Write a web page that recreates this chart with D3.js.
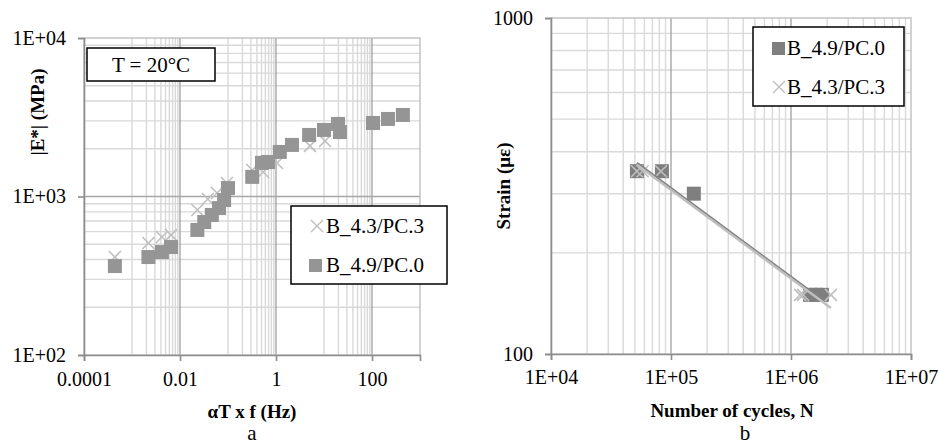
<!DOCTYPE html>
<html>
<head>
<meta charset="utf-8">
<script src="https://cdn.jsdelivr.net/npm/d3@7/dist/d3.min.js"></script>
<style>
  body { margin: 0; background: #fff; }
</style>
</head>
<body>
<script>
// ---- chart a : master curve at 20°C ----
const freqPC0 = [0.00044, 0.0022, 0.0042, 0.0065, 0.023, 0.032, 0.046, 0.065, 0.083, 0.1,
                 0.32, 0.51, 0.68, 1.2, 2.15, 4.9, 10, 19.6, 21.5, 105, 215, 440];
const modPC0  = [364, 415, 446, 480, 615, 690, 765, 845, 950, 1130,
                 1330, 1630, 1650, 1910, 2115, 2445, 2630, 2870, 2550, 2910, 3085, 3270];
const freqPC3 = [0.00044, 0.0022, 0.0042, 0.0065, 0.023, 0.038, 0.059, 0.095, 0.32, 0.54, 1.05, 5.1, 10.5];
const modPC3  = [415, 509, 555, 572, 822, 964, 1052, 1217, 1469, 1428, 1627, 2085, 2240];
const freqTicks = [0.0001, 0.01, 1, 100];
const freqLabels = ["0.0001", "0.01", "1", "100"];
const modTicks = [100, 1000, 10000];
const modLabels = ["1E+02", "1E+03", "1E+04"];

// ---- chart b : fatigue ----
const cyclesPC0 = [52000, 84000, 155000, 1440000, 1620000, 1810000];
const strainPC0 = [350, 350, 300, 150, 150, 150];
const cyclesPC3 = [52000, 58000, 82500, 1190000, 1260000, 2150000];
const strainPC3 = [350, 350, 350, 150, 150, 150];
// power trendlines, end points
const trendCyclesPC0 = [52000, 1810000];
const trendStrainPC0 = [370, 145];
const trendCyclesPC3 = [52000, 2150000];
const trendStrainPC3 = [366, 137];
const cycleTicks = [1e4, 1e5, 1e6, 1e7];
const cycleLabels = ["1E+04", "1E+05", "1E+06", "1E+07"];
const strainTicks = [100, 1000];
const strainLabels = ["100", "1000"];

const nameA = "B_4.3/PC.3";
const nameB = "B_4.9/PC.0";

const serif = '"Liberation Serif", "Times New Roman", "DejaVu Serif", serif';
const minorCol = "#d9d9d9";
const majorCol = "#a6a6a6";
const axisCol = "#8c8c8c";
const lightCol = "#bfbfbf";

const svg = d3.select("body").append("svg")
    .attr("width", 939)
    .attr("height", 445)
    .attr("font-family", serif)
    .style("font-family", serif);

function crossPath(s) {
    return `M${-s},${-s}L${s},${s}M${-s},${s}L${s},${-s}`;
}

function label(sel, size, txt) {
    return sel.append("text")
        .attr("font-family", serif)
        .style("font-size", size + "px")
        .attr("fill", "#000")
        .text(txt);
}

function grid(g, x, y, vx, vy, col, w, h) {
    g.selectAll(null).data(vx).enter().append("line")
        .attr("x1", d => x(d)).attr("x2", d => x(d))
        .attr("y1", 0).attr("y2", h)
        .attr("stroke", col).attr("stroke-width", 1.4);
    g.selectAll(null).data(vy).enter().append("line")
        .attr("x1", 0).attr("x2", w)
        .attr("y1", d => y(d)).attr("y2", d => y(d))
        .attr("stroke", col).attr("stroke-width", 1.4);
}

function styleAxis(a) {
    a.attr("font-family", serif);
    a.select(".domain").attr("stroke", axisCol).attr("stroke-width", 1.6);
    a.selectAll(".tick line").attr("stroke", axisCol).attr("stroke-width", 1.6);
    a.selectAll("text").attr("fill", "#000").style("font-size", "20px")
        .style("font-family", serif);
}

function modulusChart() {
    const left = 84, top = 38, width = 336, height = 317;
    const g = svg.append("g").attr("transform", `translate(${left},${top})`);

    const x = d3.scaleLog().domain([0.0001, 1000]).range([0, width]);
    const y = d3.scaleLog().domain([100, 10000]).range([height, 0]);

    // gridlines
    let minorX = [];
    freqTicks.forEach(m => { for (let n = 1; n <= 9; n++) if (m * 10 * n < 1000) minorX.push(m * 10 * n); });
    let minorY = [];
    [100, 1000].forEach(m => { for (let n = 2; n <= 9; n++) minorY.push(m * n); });
    grid(g, x, y, minorX, minorY, minorCol, width, height);
    grid(g, x, y, [0.01, 1, 100], [1000], majorCol, width, height);

    g.append("rect").attr("width", width).attr("height", height)
        .attr("fill", "none").attr("stroke", lightCol).attr("stroke-width", 1.4);

    const ay = g.append("g").call(d3.axisLeft(y).tickValues(modTicks)
        .tickFormat((d, i) => modLabels[i]).tickSize(6).tickPadding(12));
    styleAxis(ay);
    const ax = g.append("g").attr("transform", `translate(0,${height})`)
        .call(d3.axisBottom(x).tickValues(freqTicks)
        .tickFormat((d, i) => freqLabels[i]).tickSize(6).tickPadding(11));
    styleAxis(ax);

    // markers
    g.selectAll(null).data(freqPC3).enter().append("path")
        .attr("transform", (d, i) => `translate(${x(d)},${y(modPC3[i])})`)
        .attr("d", crossPath(6))
        .attr("stroke", lightCol).attr("stroke-width", 1.6).attr("fill", "none");
    g.selectAll(null).data(freqPC0).enter().append("rect")
        .attr("x", d => x(d) - 7)
        .attr("y", (d, i) => y(modPC0[i]) - 7)
        .attr("width", 14).attr("height", 14)
        .attr("fill", "#959595");

    // T box
    g.append("rect").attr("x", 3).attr("y", 10).attr("width", 128).attr("height", 33)
        .attr("fill", "#fff").attr("stroke", "#000").attr("stroke-width", 1.5);
    label(g, 21, "T = 20°C").attr("x", 67).attr("y", 34).attr("text-anchor", "middle");

    // legend
    const lg = svg.append("g").attr("transform", "translate(291,206)");
    lg.append("rect").attr("width", 156).attr("height", 78)
        .attr("fill", "#fff").attr("stroke", "#000").attr("stroke-width", 1.5);
    lg.append("path").attr("transform", "translate(26,20)").attr("d", crossPath(6))
        .attr("stroke", lightCol).attr("stroke-width", 1.4);
    label(lg, 21, nameA).attr("x", 35).attr("y", 27);
    lg.append("rect").attr("x", 18).attr("y", 53).attr("width", 13).attr("height", 13)
        .attr("fill", "#959595");
    label(lg, 21, nameB).attr("x", 35).attr("y", 66);

    label(svg, 19, "|E*| (MPa)").attr("transform", "translate(44,112) rotate(-90)")
        .attr("text-anchor", "middle").style("font-weight", "bold");
    label(svg, 19, "αT x f (Hz)").attr("x", 252).attr("y", 418)
        .attr("text-anchor", "middle").style("font-weight", "bold");
    label(svg, 21, "a").attr("x", 252).attr("y", 440).attr("text-anchor", "middle");
}

function fatigueChart() {
    const left = 551, top = 18, width = 360, height = 336;
    const g = svg.append("g").attr("transform", `translate(${left},${top})`);

    const x = d3.scaleLog().domain([1e4, 1e7]).range([0, width]);
    const y = d3.scaleLog().domain([100, 1000]).range([height, 0]);

    let minorX = [];
    [1e4, 1e5, 1e6].forEach(m => { for (let n = 2; n <= 9; n++) minorX.push(m * n); });
    let minorY = [];
    for (let n = 2; n <= 9; n++) minorY.push(100 * n);
    grid(g, x, y, minorX, minorY, minorCol, width, height);
    grid(g, x, y, [1e5, 1e6], [], majorCol, width, height);

    g.append("rect").attr("width", width).attr("height", height)
        .attr("fill", "none").attr("stroke", lightCol).attr("stroke-width", 1.4);

    const ay = g.append("g").call(d3.axisLeft(y).tickValues(strainTicks)
        .tickFormat((d, i) => strainLabels[i]).tickSize(6).tickPadding(12));
    styleAxis(ay);
    const ax = g.append("g").attr("transform", `translate(0,${height})`)
        .call(d3.axisBottom(x).tickValues(cycleTicks)
        .tickFormat((d, i) => cycleLabels[i]).tickSize(6).tickPadding(10));
    styleAxis(ax);

    g.selectAll(null).data(cyclesPC0).enter().append("rect")
        .attr("x", d => x(d) - 7)
        .attr("y", (d, i) => y(strainPC0[i]) - 7)
        .attr("width", 14).attr("height", 14)
        .attr("fill", "#7f7f7f");
    g.selectAll(null).data(cyclesPC3).enter().append("path")
        .attr("transform", (d, i) => `translate(${x(d)},${y(strainPC3[i])})`)
        .attr("d", crossPath(6))
        .attr("stroke", lightCol).attr("stroke-width", 1.6).attr("fill", "none");

    // power trendlines
    const line = d3.line().x(d => x(d[0])).y(d => y(d[1]));
    g.append("path").datum(d3.zip(trendCyclesPC0, trendStrainPC0)).attr("d", line)
        .attr("stroke", "#808080").attr("stroke-width", 2.5).attr("fill", "none");
    g.append("path").datum(d3.zip(trendCyclesPC3, trendStrainPC3)).attr("d", line)
        .attr("stroke", lightCol).attr("stroke-width", 2.5).attr("fill", "none");

    const lg = svg.append("g").attr("transform", "translate(753,27)");
    lg.append("rect").attr("width", 151).attr("height", 79)
        .attr("fill", "#fff").attr("stroke", "#000").attr("stroke-width", 1.5);
    lg.append("rect").attr("x", 19).attr("y", 15).attr("width", 13).attr("height", 13)
        .attr("fill", "#7f7f7f");
    label(lg, 21, nameB).attr("x", 34).attr("y", 28);
    lg.append("path").attr("transform", "translate(26,60)").attr("d", crossPath(6))
        .attr("stroke", lightCol).attr("stroke-width", 1.4);
    label(lg, 21, nameA).attr("x", 34).attr("y", 67);

    label(svg, 19, "Strain (με)").attr("transform", "translate(510,186) rotate(-90)")
        .attr("text-anchor", "middle").style("font-weight", "bold");
    label(svg, 19, "Number of cycles, N").attr("x", 732).attr("y", 417)
        .attr("text-anchor", "middle").style("font-weight", "bold");
    label(svg, 21, "b").attr("x", 745).attr("y", 440).attr("text-anchor", "middle");
}

modulusChart();
fatigueChart();
</script>
</body>
</html>
